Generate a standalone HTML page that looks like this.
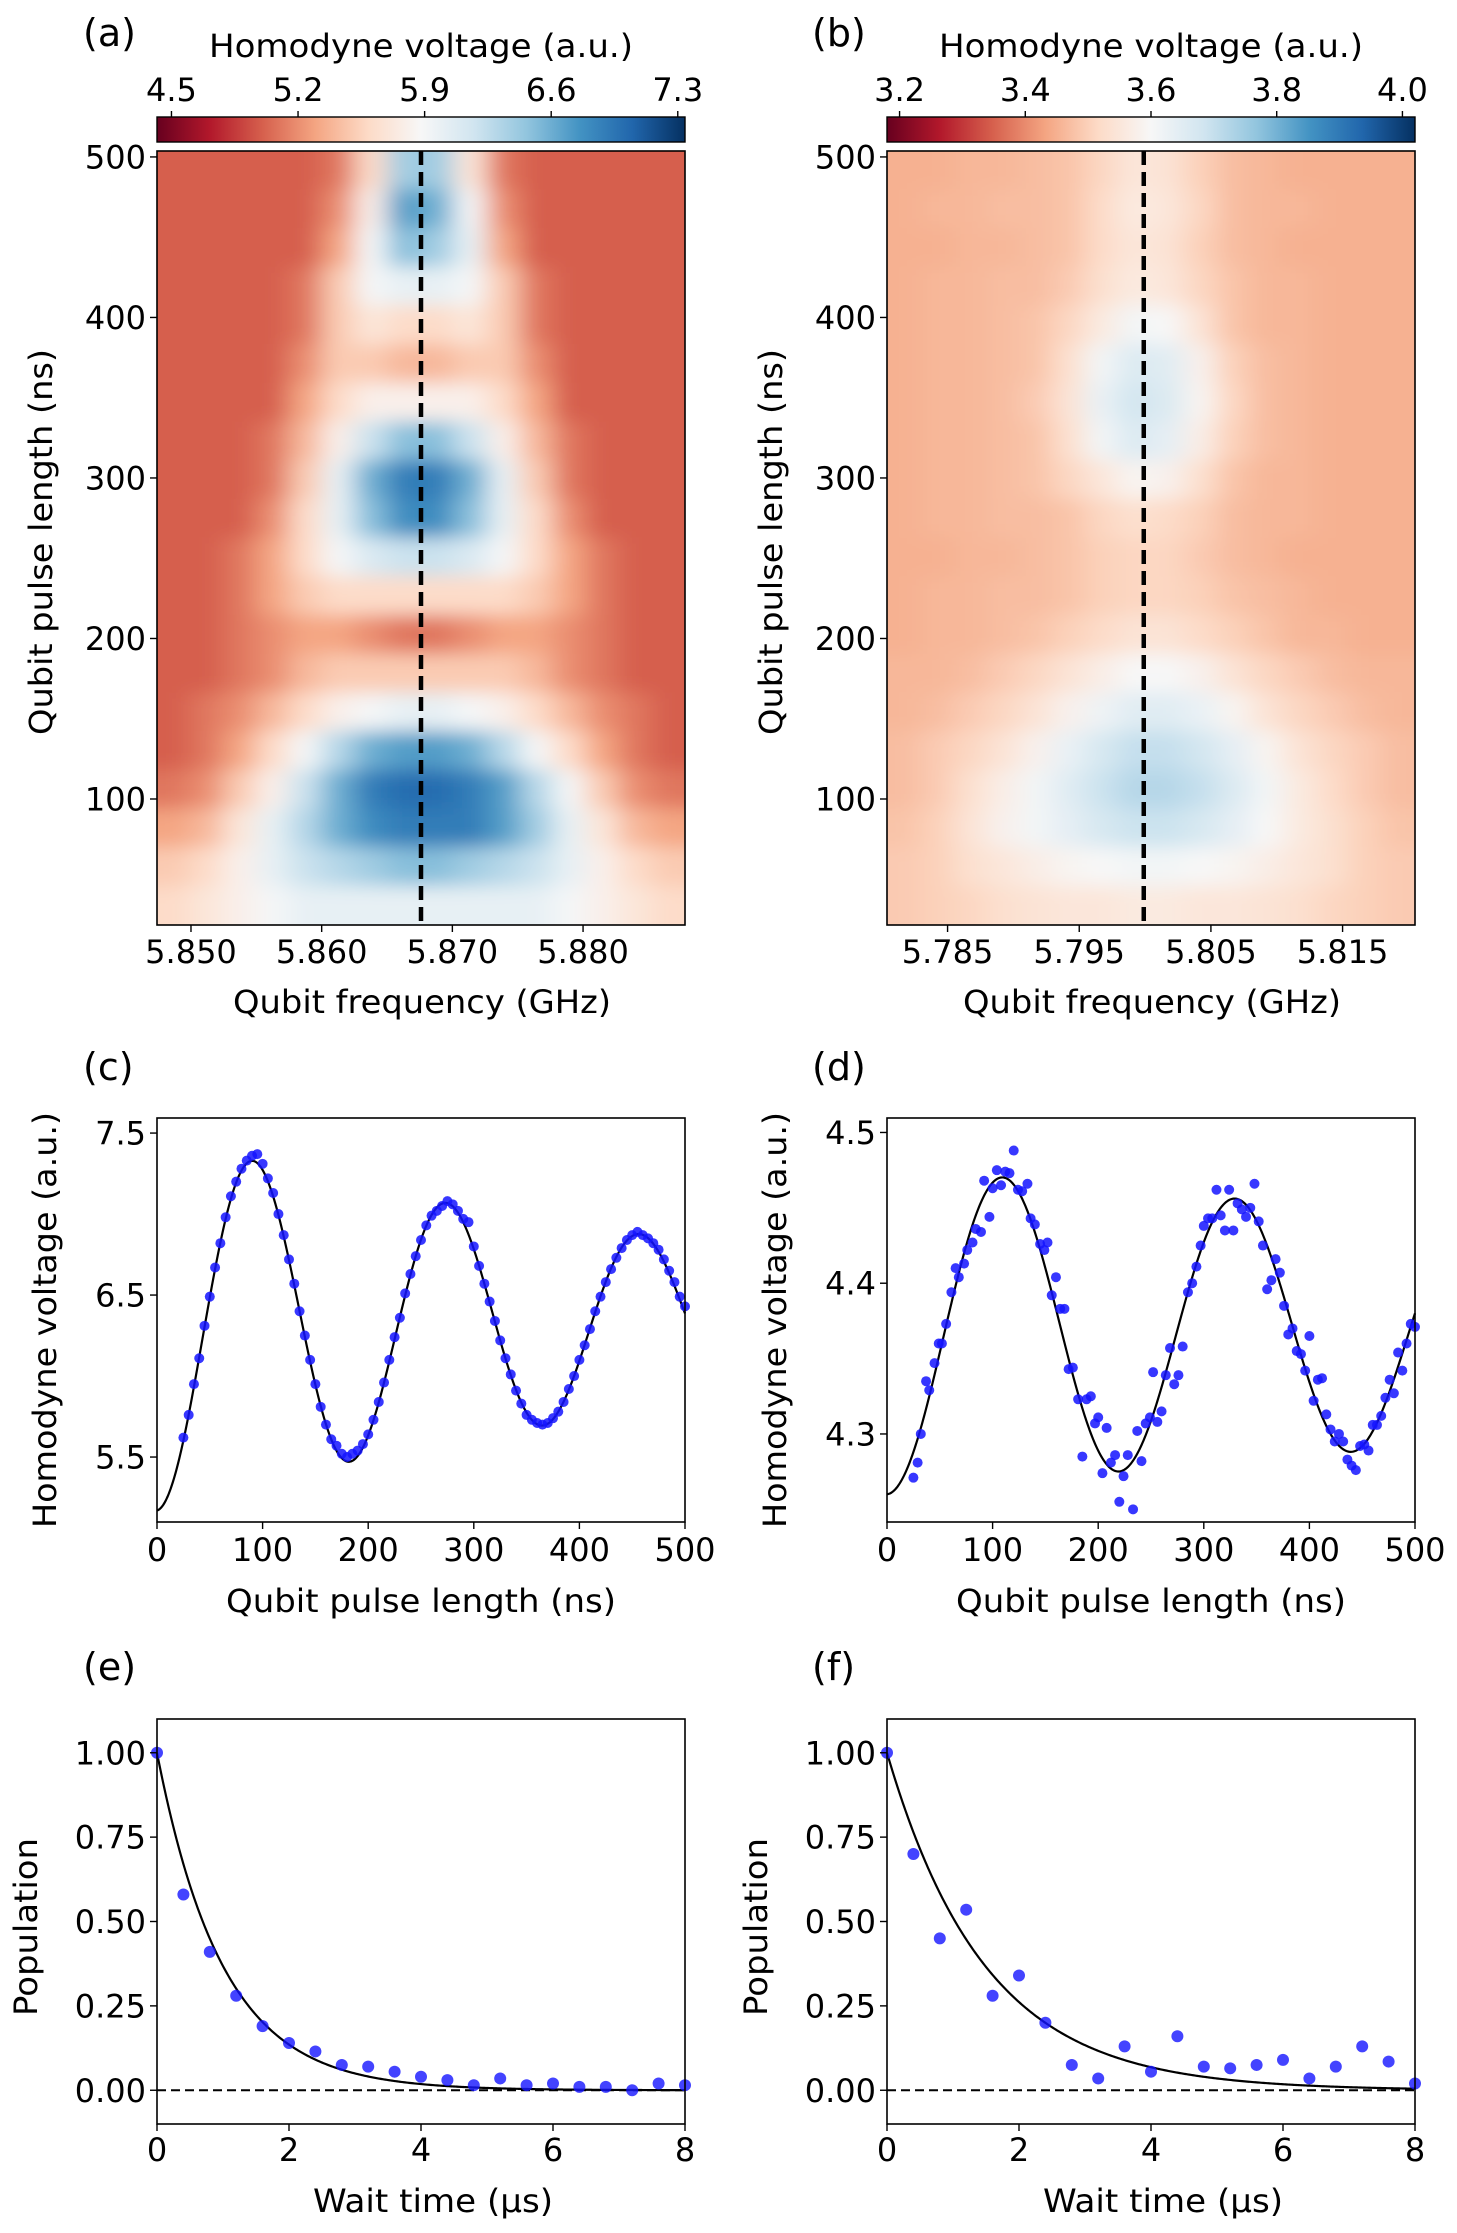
<!DOCTYPE html>
<html><head><meta charset="utf-8"><title>Rabi and T1 measurements</title>
<style>
html,body{margin:0;padding:0;background:#fff;}
svg{display:block;font-family:"DejaVu Sans","Liberation Sans",sans-serif;}
</style></head>
<body>
<svg id="fig" width="1457" height="2233" viewBox="0 0 1457 2233" xmlns="http://www.w3.org/2000/svg">
<defs>
<linearGradient id="rdbu" x1="0" x2="1" y1="0" y2="0">
<stop offset="0" stop-color="rgb(103,0,31)"/><stop offset="0.1" stop-color="rgb(178,24,43)"/>
<stop offset="0.2" stop-color="rgb(214,96,77)"/><stop offset="0.3" stop-color="rgb(244,165,130)"/>
<stop offset="0.4" stop-color="rgb(253,219,199)"/><stop offset="0.5" stop-color="rgb(247,247,247)"/>
<stop offset="0.6" stop-color="rgb(209,229,240)"/><stop offset="0.7" stop-color="rgb(146,197,222)"/>
<stop offset="0.8" stop-color="rgb(67,147,195)"/><stop offset="0.9" stop-color="rgb(33,102,172)"/>
<stop offset="1" stop-color="rgb(5,48,97)"/>
</linearGradient>
<filter id="soft" filterUnits="userSpaceOnUse" x="0" y="0" width="1457" height="1000"><feGaussianBlur stdDeviation="13 9"/></filter>
<clipPath id="clipA"><rect x="157" y="151" width="528" height="774"/></clipPath>
<clipPath id="clipB"><rect x="887" y="151" width="528" height="774"/></clipPath>
</defs>
</svg>
<script>
// ---------- DATA ----------
const heatA = [
[5.0,5.0,5.0,5.0,5.0,5.1,5.6,6.4,6.4,5.7,5.1,5.0,5.0,5.0,5.0,5.0],
[5.0,5.0,5.0,5.0,5.0,5.2,5.8,6.7,6.6,5.9,5.2,5.0,5.0,5.0,5.0,5.0],
[5.0,5.0,5.0,5.0,5.0,5.3,5.9,6.5,6.4,6.0,5.3,5.0,5.0,5.0,5.0,5.0],
[5.0,5.0,5.0,5.0,5.1,5.5,5.9,6.0,6.0,5.9,5.5,5.1,5.0,5.0,5.0,5.0],
[5.0,5.0,5.0,5.0,5.1,5.5,5.7,5.6,5.6,5.7,5.5,5.1,5.0,5.0,5.0,5.0],
[5.0,5.0,5.0,5.0,5.2,5.5,5.5,5.4,5.4,5.5,5.5,5.2,5.0,5.0,5.0,5.0],
[5.0,5.0,5.0,5.0,5.3,5.6,5.8,5.8,5.8,5.8,5.6,5.3,5.0,5.0,5.0,5.0],
[5.0,5.0,5.0,5.1,5.4,5.8,6.2,6.5,6.5,6.2,5.8,5.4,5.1,5.0,5.0,5.0],
[5.0,5.0,5.0,5.1,5.5,6.0,6.6,6.9,6.9,6.6,6.0,5.5,5.1,5.0,5.0,5.0],
[5.0,5.0,5.0,5.2,5.6,6.0,6.5,6.8,6.8,6.5,6.0,5.6,5.2,5.0,5.0,5.0],
[5.0,5.0,5.1,5.3,5.6,5.9,6.1,6.2,6.2,6.1,5.9,5.6,5.3,5.1,5.0,5.0],
[5.0,5.0,5.1,5.3,5.5,5.6,5.6,5.6,5.6,5.6,5.6,5.5,5.3,5.1,5.0,5.0],
[5.0,5.0,5.1,5.2,5.3,5.3,5.2,5.1,5.1,5.2,5.3,5.3,5.2,5.1,5.0,5.0],
[5.0,5.0,5.1,5.2,5.4,5.5,5.5,5.5,5.5,5.5,5.5,5.4,5.2,5.1,5.0,5.0],
[5.0,5.1,5.2,5.4,5.6,5.8,5.9,6.0,6.0,5.9,5.8,5.6,5.4,5.2,5.1,5.0],
[5.0,5.1,5.3,5.6,5.9,6.3,6.6,6.7,6.7,6.6,6.3,5.9,5.6,5.3,5.1,5.0],
[5.1,5.2,5.5,5.8,6.2,6.6,6.9,7.0,7.0,6.9,6.7,6.3,5.9,5.5,5.2,5.1],
[5.3,5.4,5.7,6.0,6.3,6.6,6.8,6.9,6.9,6.9,6.7,6.4,6.0,5.7,5.4,5.3],
[5.5,5.6,5.8,6.0,6.2,6.3,6.4,6.5,6.5,6.4,6.3,6.2,6.0,5.8,5.6,5.5],
[5.6,5.7,5.8,5.9,6.0,6.0,6.0,6.0,6.0,6.0,6.0,6.0,5.9,5.8,5.7,5.6]
];
const heatB = [
[3.45,3.45,3.46,3.46,3.47,3.48,3.51,3.55,3.54,3.50,3.47,3.46,3.45,3.45,3.45,3.45],
[3.45,3.46,3.46,3.47,3.47,3.48,3.52,3.56,3.55,3.51,3.47,3.46,3.46,3.45,3.45,3.45],
[3.45,3.45,3.46,3.46,3.47,3.48,3.52,3.55,3.54,3.50,3.47,3.46,3.45,3.45,3.45,3.45],
[3.45,3.46,3.46,3.47,3.47,3.49,3.53,3.56,3.55,3.51,3.48,3.46,3.46,3.45,3.45,3.45],
[3.45,3.46,3.46,3.47,3.48,3.51,3.56,3.61,3.60,3.54,3.48,3.46,3.46,3.45,3.45,3.45],
[3.45,3.46,3.46,3.47,3.48,3.53,3.61,3.66,3.65,3.58,3.50,3.47,3.46,3.45,3.45,3.45],
[3.45,3.46,3.46,3.47,3.49,3.54,3.63,3.68,3.66,3.59,3.51,3.47,3.46,3.45,3.45,3.45],
[3.45,3.46,3.46,3.47,3.48,3.53,3.61,3.66,3.64,3.57,3.50,3.47,3.46,3.45,3.45,3.45],
[3.45,3.46,3.46,3.47,3.48,3.51,3.55,3.59,3.58,3.53,3.48,3.46,3.46,3.45,3.45,3.45],
[3.45,3.46,3.46,3.47,3.47,3.48,3.51,3.53,3.52,3.50,3.47,3.46,3.46,3.45,3.45,3.45],
[3.45,3.45,3.46,3.46,3.47,3.48,3.50,3.51,3.51,3.49,3.47,3.46,3.45,3.45,3.45,3.45],
[3.45,3.46,3.46,3.47,3.47,3.48,3.50,3.51,3.51,3.50,3.48,3.47,3.46,3.45,3.45,3.45],
[3.45,3.46,3.46,3.47,3.48,3.50,3.52,3.54,3.54,3.52,3.50,3.48,3.46,3.46,3.45,3.45],
[3.46,3.46,3.47,3.49,3.51,3.54,3.57,3.60,3.60,3.58,3.54,3.51,3.49,3.47,3.46,3.46],
[3.46,3.47,3.49,3.51,3.54,3.58,3.62,3.65,3.65,3.63,3.59,3.54,3.51,3.49,3.47,3.46],
[3.47,3.49,3.51,3.54,3.58,3.63,3.67,3.70,3.70,3.68,3.64,3.59,3.54,3.51,3.49,3.47],
[3.47,3.49,3.53,3.57,3.61,3.65,3.69,3.72,3.72,3.70,3.66,3.61,3.56,3.52,3.49,3.47],
[3.48,3.50,3.54,3.58,3.61,3.64,3.67,3.69,3.69,3.67,3.64,3.60,3.56,3.53,3.50,3.48],
[3.49,3.50,3.53,3.55,3.57,3.59,3.60,3.61,3.61,3.60,3.59,3.57,3.55,3.53,3.50,3.49],
[3.49,3.50,3.51,3.53,3.54,3.55,3.55,3.56,3.56,3.55,3.55,3.54,3.53,3.51,3.50,3.49]
];
const cbTicksA = [4.5, 5.2, 5.9, 6.6, 7.3];
const cbTicksB = [3.2, 3.4, 3.6, 3.8, 4.0];
const freqTicksA = [5.850, 5.860, 5.870, 5.880];
const freqTicksB = [5.785, 5.795, 5.805, 5.815];
const pulseTicks = [100, 200, 300, 400, 500];
const resonanceA = [5.8676];
const resonanceB = [5.7999];

const cX = [25,30,35,40,45,50,55,60,65,70,75,80,85,90,95,100,105,110,115,120,125,130,135,140,145,150,155,160,165,170,175,180,185,190,195,200,205,210,215,220,225,230,235,240,245,250,255,260,265,270,275,280,285,290,295,300,305,310,315,320,325,330,335,340,345,350,355,360,365,370,375,380,385,390,395,400,405,410,415,420,425,430,435,440,445,450,455,460,465,470,475,480,485,490,495,500];
const cY = [5.62,5.76,5.95,6.11,6.31,6.49,6.67,6.82,6.98,7.11,7.20,7.28,7.33,7.36,7.37,7.31,7.22,7.13,7.00,6.87,6.72,6.57,6.40,6.25,6.10,5.95,5.81,5.70,5.61,5.57,5.52,5.50,5.52,5.54,5.58,5.64,5.73,5.84,5.96,6.10,6.24,6.36,6.51,6.63,6.74,6.84,6.93,6.99,7.02,7.05,7.08,7.06,7.02,6.97,6.95,6.80,6.68,6.57,6.46,6.34,6.22,6.11,6.01,5.91,5.83,5.76,5.73,5.71,5.70,5.71,5.74,5.78,5.84,5.92,6.00,6.10,6.19,6.29,6.40,6.49,6.58,6.66,6.73,6.79,6.84,6.87,6.89,6.87,6.85,6.82,6.78,6.72,6.65,6.58,6.49,6.43];
const cFit = [6.33, 1.16, 607, 183];
const cYTicks = [5.5, 6.5, 7.5];

const dX = [25,29,32,37,40,45,49,52,56,61,65,68,73,76,81,84,89,92,97,100,104,108,112,116,120,124,128,133,136,140,145,149,152,156,160,164,168,172,176,181,185,189,193,197,200,204,208,212,216,220,224,228,233,237,241,245,249,252,256,260,264,268,272,276,280,285,289,293,297,300,304,308,312,316,320,324,328,332,336,340,344,348,352,356,360,364,368,372,376,380,384,388,392,396,400,404,408,412,416,420,424,428,432,436,440,444,448,452,456,460,464,468,472,476,480,484,488,492,496,500];
const dY = [4.271,4.281,4.300,4.335,4.329,4.347,4.360,4.360,4.373,4.394,4.410,4.404,4.413,4.422,4.427,4.436,4.434,4.468,4.444,4.463,4.475,4.465,4.474,4.473,4.488,4.462,4.461,4.466,4.443,4.439,4.426,4.422,4.427,4.392,4.404,4.383,4.383,4.343,4.344,4.323,4.285,4.323,4.325,4.307,4.311,4.274,4.304,4.281,4.286,4.255,4.272,4.286,4.250,4.302,4.282,4.307,4.311,4.341,4.308,4.315,4.339,4.357,4.333,4.339,4.358,4.394,4.400,4.411,4.425,4.438,4.443,4.443,4.462,4.445,4.435,4.462,4.435,4.453,4.449,4.444,4.450,4.466,4.441,4.425,4.396,4.402,4.416,4.407,4.385,4.366,4.370,4.355,4.353,4.342,4.365,4.322,4.336,4.337,4.313,4.303,4.295,4.300,4.295,4.283,4.279,4.276,4.292,4.293,4.289,4.306,4.306,4.312,4.324,4.336,4.327,4.354,4.342,4.360,4.373,4.371];
const dFit = [4.369, 0.109, 1473, 220];
const dYTicks = [4.3, 4.4, 4.5];
const pulseXTicks = [0, 100, 200, 300, 400, 500];

const eX = [0,0.4,0.8,1.2,1.6,2.0,2.4,2.8,3.2,3.6,4.0,4.4,4.8,5.2,5.6,6.0,6.4,6.8,7.2,7.6,8.0];
const eY = [1.00,0.58,0.41,0.28,0.19,0.14,0.115,0.075,0.07,0.055,0.04,0.03,0.015,0.035,0.015,0.02,0.01,0.01,0.0,0.02,0.015];
const fY = [1.00,0.70,0.45,0.535,0.28,0.34,0.20,0.075,0.035,0.13,0.055,0.16,0.07,0.065,0.075,0.09,0.035,0.07,0.13,0.085,0.02];
const eT1 = [1.0];
const fT1 = [1.49];
const popTicks = [0.00, 0.25, 0.50, 0.75, 1.00];
const waitTicks = [0, 2, 4, 6, 8];

// ---------- RENDER ----------
const NS = 'http://www.w3.org/2000/svg';
const svg = document.getElementById('fig');
const FS = 32;
function mk(tag, attrs, parent) {
  const e = document.createElementNS(NS, tag);
  for (const k in attrs) e.setAttribute(k, attrs[k]);
  (parent || svg).appendChild(e);
  return e;
}
function txt(str, x, y, size, anchor, parent, extra) {
  const t = mk('text', Object.assign({x: x, y: y, 'font-size': size, 'text-anchor': anchor || 'middle', fill: '#000'}, extra || {}), parent);
  t.textContent = str;
  return t;
}
const stops = [[103,0,31],[178,24,43],[214,96,77],[244,165,130],[253,219,199],[247,247,247],[209,229,240],[146,197,222],[67,147,195],[33,102,172],[5,48,97]];
function cmap(t) {
  t = Math.max(0, Math.min(1, t));
  const p = t * 10, i = Math.min(9, Math.floor(p)), f = p - i;
  const a = stops[i], b = stops[i + 1];
  return 'rgb(' + [0,1,2].map(k => Math.round(a[k] + (b[k] - a[k]) * f)).join(',') + ')';
}
function scale(d0, d1, r0, r1) { return v => r0 + (v - d0) / (d1 - d0) * (r1 - r0); }

function axesFrame(g, L, R, T, B) {
  mk('rect', {x: L, y: T, width: R - L, height: B - T, fill: 'none', stroke: '#000', 'stroke-width': 1.6}, g);
}
function xTicks(g, ticks, sx, B, labBase, fmt, name) {
  ticks.forEach(v => {
    const x = sx(v);
    mk('line', {x1: x, x2: x, y1: B, y2: B + 7, stroke: '#000', 'stroke-width': 1.4}, g);
    const t = txt(fmt(v), x, labBase, FS, 'middle', g);
    
    
  });
}
function yTicks(g, ticks, sy, L, fmt, name) {
  ticks.forEach(v => {
    const y = sy(v);
    mk('line', {x1: L - 7, x2: L, y1: y, y2: y, stroke: '#000', 'stroke-width': 1.4}, g);
    const t = txt(fmt(v), L - 11, y + 11.5, FS, 'end', g);
    
    
  });
}
function yLabel(g, str, x, cy, len, name) {
  const t = txt(str, x, cy, FS, 'middle', g, {transform: 'rotate(-90 ' + x + ' ' + cy + ')', textLength: len, lengthAdjust: 'spacingAndGlyphs'});
  
  
}
function xLabel(g, str, cx, y, len, name) {
  const t = txt(str, cx, y, FS, 'middle', g, {textLength: len, lengthAdjust: 'spacingAndGlyphs'});
  
  
}
function panelLabel(str, x, y, name) {
  const t = txt(str, x, y, 38, 'start');
  
  
}

function heatPanel(id, grid, L, R, T, B, x0, x1, vmin, vmax, cbTicks, fTicks, reso, clip) {
  const g = mk('g', {});
  
  
  const sx = scale(x0, x1, L, R);
  const sy = scale(21.5, 503.7, B, T);
  const nr = grid.length, nc = grid[0].length;
  const cw = (R - L) / nc, ch = (B - T) / nr;
  const hm = mk('g', {'clip-path': 'url(#' + clip + ')'}, g);
  
  
  const inner = mk('g', {filter: 'url(#soft)'}, hm);
  for (let r = -1; r <= nr; r++) for (let c = -1; c <= nc; c++) {
    const rr = Math.max(0, Math.min(nr - 1, r)), cc = Math.max(0, Math.min(nc - 1, c));
    const cell = mk('rect', {x: L + c * cw - 0.5, y: T + r * ch - 0.5, width: cw + 1, height: ch + 1, fill: cmap((grid[rr][cc] - vmin) / (vmax - vmin))}, inner);
    
    
  }
  const dl = mk('line', {x1: sx(reso[0]), x2: sx(reso[0]), y1: T, y2: B, stroke: '#000', 'stroke-width': 4.5, 'stroke-dasharray': '14 7'}, g);
  
  
  axesFrame(g, L, R, T, B);
  xTicks(g, fTicks, sx, B, 963, v => v.toFixed(3), 'x-axis');
  yTicks(g, pulseTicks, sy, L, v => String(v), 'y-axis');
  xLabel(g, 'Qubit frequency (GHz)', (L + R) / 2 + 1, 1013, 378, 'x-axis-title');
  yLabel(g, 'Qubit pulse length (ns)', L - 105, 542, 386, 'y-axis-title');
  const cb = mk('g', {}, g);
  
  
  mk('rect', {x: L, y: 117, width: R - L, height: 25, fill: 'url(#rdbu)', stroke: '#000', 'stroke-width': 1.4}, cb);
  const scb = scale(vmin, vmax, L, R);
  cbTicks.forEach(v => {
    const x = scb(v);
    mk('line', {x1: x, x2: x, y1: 117, y2: 111, stroke: '#000', 'stroke-width': 1.4}, cb);
    const t = txt(v.toFixed(1), x, 101, FS, 'middle', cb);
    
    
  });
  const ct = txt('Homodyne voltage (a.u.)', (L + R) / 2, 57, FS, 'middle', cb, {textLength: 424, lengthAdjust: 'spacingAndGlyphs'});
  
  
}

heatPanel('a', heatA, 157, 685, 151, 925, 5.8474, 5.8878, 4.42, 7.34, cbTicksA, freqTicksA, resonanceA, 'clipA');
heatPanel('b', heatB, 887, 1415, 151, 925, 5.7804, 5.8205, 3.18, 4.02, cbTicksB, freqTicksB, resonanceB, 'clipB');
panelLabel('(a)', 83, 46, 'panel-label-a');
panelLabel('(b)', 812, 46, 'panel-label-b');

function rabiPanel(id, xs, ys, fit, L, R, T, B, y0, y1, yt, fmt) {
  const g = mk('g', {});
  
  
  const sx = scale(0, 500, L, R);
  const sy = scale(y0, y1, B, T);
  let d = '';
  for (let t = 0; t <= 500; t += 1) {
    const v = fit[0] - fit[1] * Math.exp(-t / fit[2]) * Math.cos(2 * Math.PI * t / fit[3]);
    d += (t === 0 ? 'M' : 'L') + sx(t).toFixed(2) + ' ' + sy(v).toFixed(2);
  }
  const p = mk('path', {d: d, fill: 'none', stroke: '#000', 'stroke-width': 2.2}, g);
  
  
  const pts = mk('g', {}, g);
  
  
  const n = Math.min(xs.length, ys.length);
  for (let i = 0; i < n; i++) {
    const c = mk('circle', {cx: sx(xs[i]), cy: sy(ys[i]), r: 5, fill: 'rgb(20,20,255)', 'fill-opacity': 0.85}, pts);
    
    
  }
  axesFrame(g, L, R, T, B);
  xTicks(g, pulseXTicks, sx, B, 1561, v => String(v), 'x-axis');
  yTicks(g, yt, sy, L, fmt, 'y-axis');
  xLabel(g, 'Qubit pulse length (ns)', (L + R) / 2, 1612, 390, 'x-axis-title');
  yLabel(g, 'Homodyne voltage (a.u.)', L - 101, 1320, 416, 'y-axis-title');
}
rabiPanel('c', cX, cY, cFit, 157, 685, 1118, 1522, 5.099, 7.593, cYTicks, v => v.toFixed(1));
rabiPanel('d', dX, dY, dFit, 887, 1415, 1118, 1522, 4.2416, 4.5096, dYTicks, v => v.toFixed(1));
panelLabel('(c)', 83, 1080, 'panel-label-c');
panelLabel('(d)', 812, 1080, 'panel-label-d');

function t1Panel(id, xs, ys, T1, L, R, T, B) {
  const g = mk('g', {});
  
  
  const sx = scale(0, 8, L, R);
  const sy = scale(-0.1, 1.1, B, T);
  const z = mk('line', {x1: L, x2: R, y1: sy(0), y2: sy(0), stroke: '#000', 'stroke-width': 2, 'stroke-dasharray': '9 5'}, g);
  
  
  let d = '';
  for (let i = 0; i <= 400; i++) {
    const t = i * 8 / 400;
    d += (i === 0 ? 'M' : 'L') + sx(t).toFixed(2) + ' ' + sy(Math.exp(-t / T1[0])).toFixed(2);
  }
  const p = mk('path', {d: d, fill: 'none', stroke: '#000', 'stroke-width': 2.2}, g);
  
  
  const pts = mk('g', {}, g);
  
  
  for (let i = 0; i < xs.length; i++) {
    const c = mk('circle', {cx: sx(xs[i]), cy: sy(ys[i]), r: 6, fill: 'rgb(20,20,255)', 'fill-opacity': 0.8}, pts);
    
    
  }
  axesFrame(g, L, R, T, B);
  xTicks(g, waitTicks, sx, B, 2161, v => String(v), 'x-axis');
  yTicks(g, popTicks, sy, L, v => v.toFixed(2), 'y-axis');
  xLabel(g, 'Wait time (μs)', (L + R) / 2 + 12, 2212, 240, 'x-axis-title');
  yLabel(g, 'Population', L - 120, 1927, 178, 'y-axis-title');
}
t1Panel('e', eX, eY, eT1, 157, 685, 1719, 2124);
t1Panel('f', eX, fY, fT1, 887, 1415, 1719, 2124);
panelLabel('(e)', 83, 1680, 'panel-label-e');
panelLabel('(f)', 812, 1680, 'panel-label-f');
</script>
</body></html>
